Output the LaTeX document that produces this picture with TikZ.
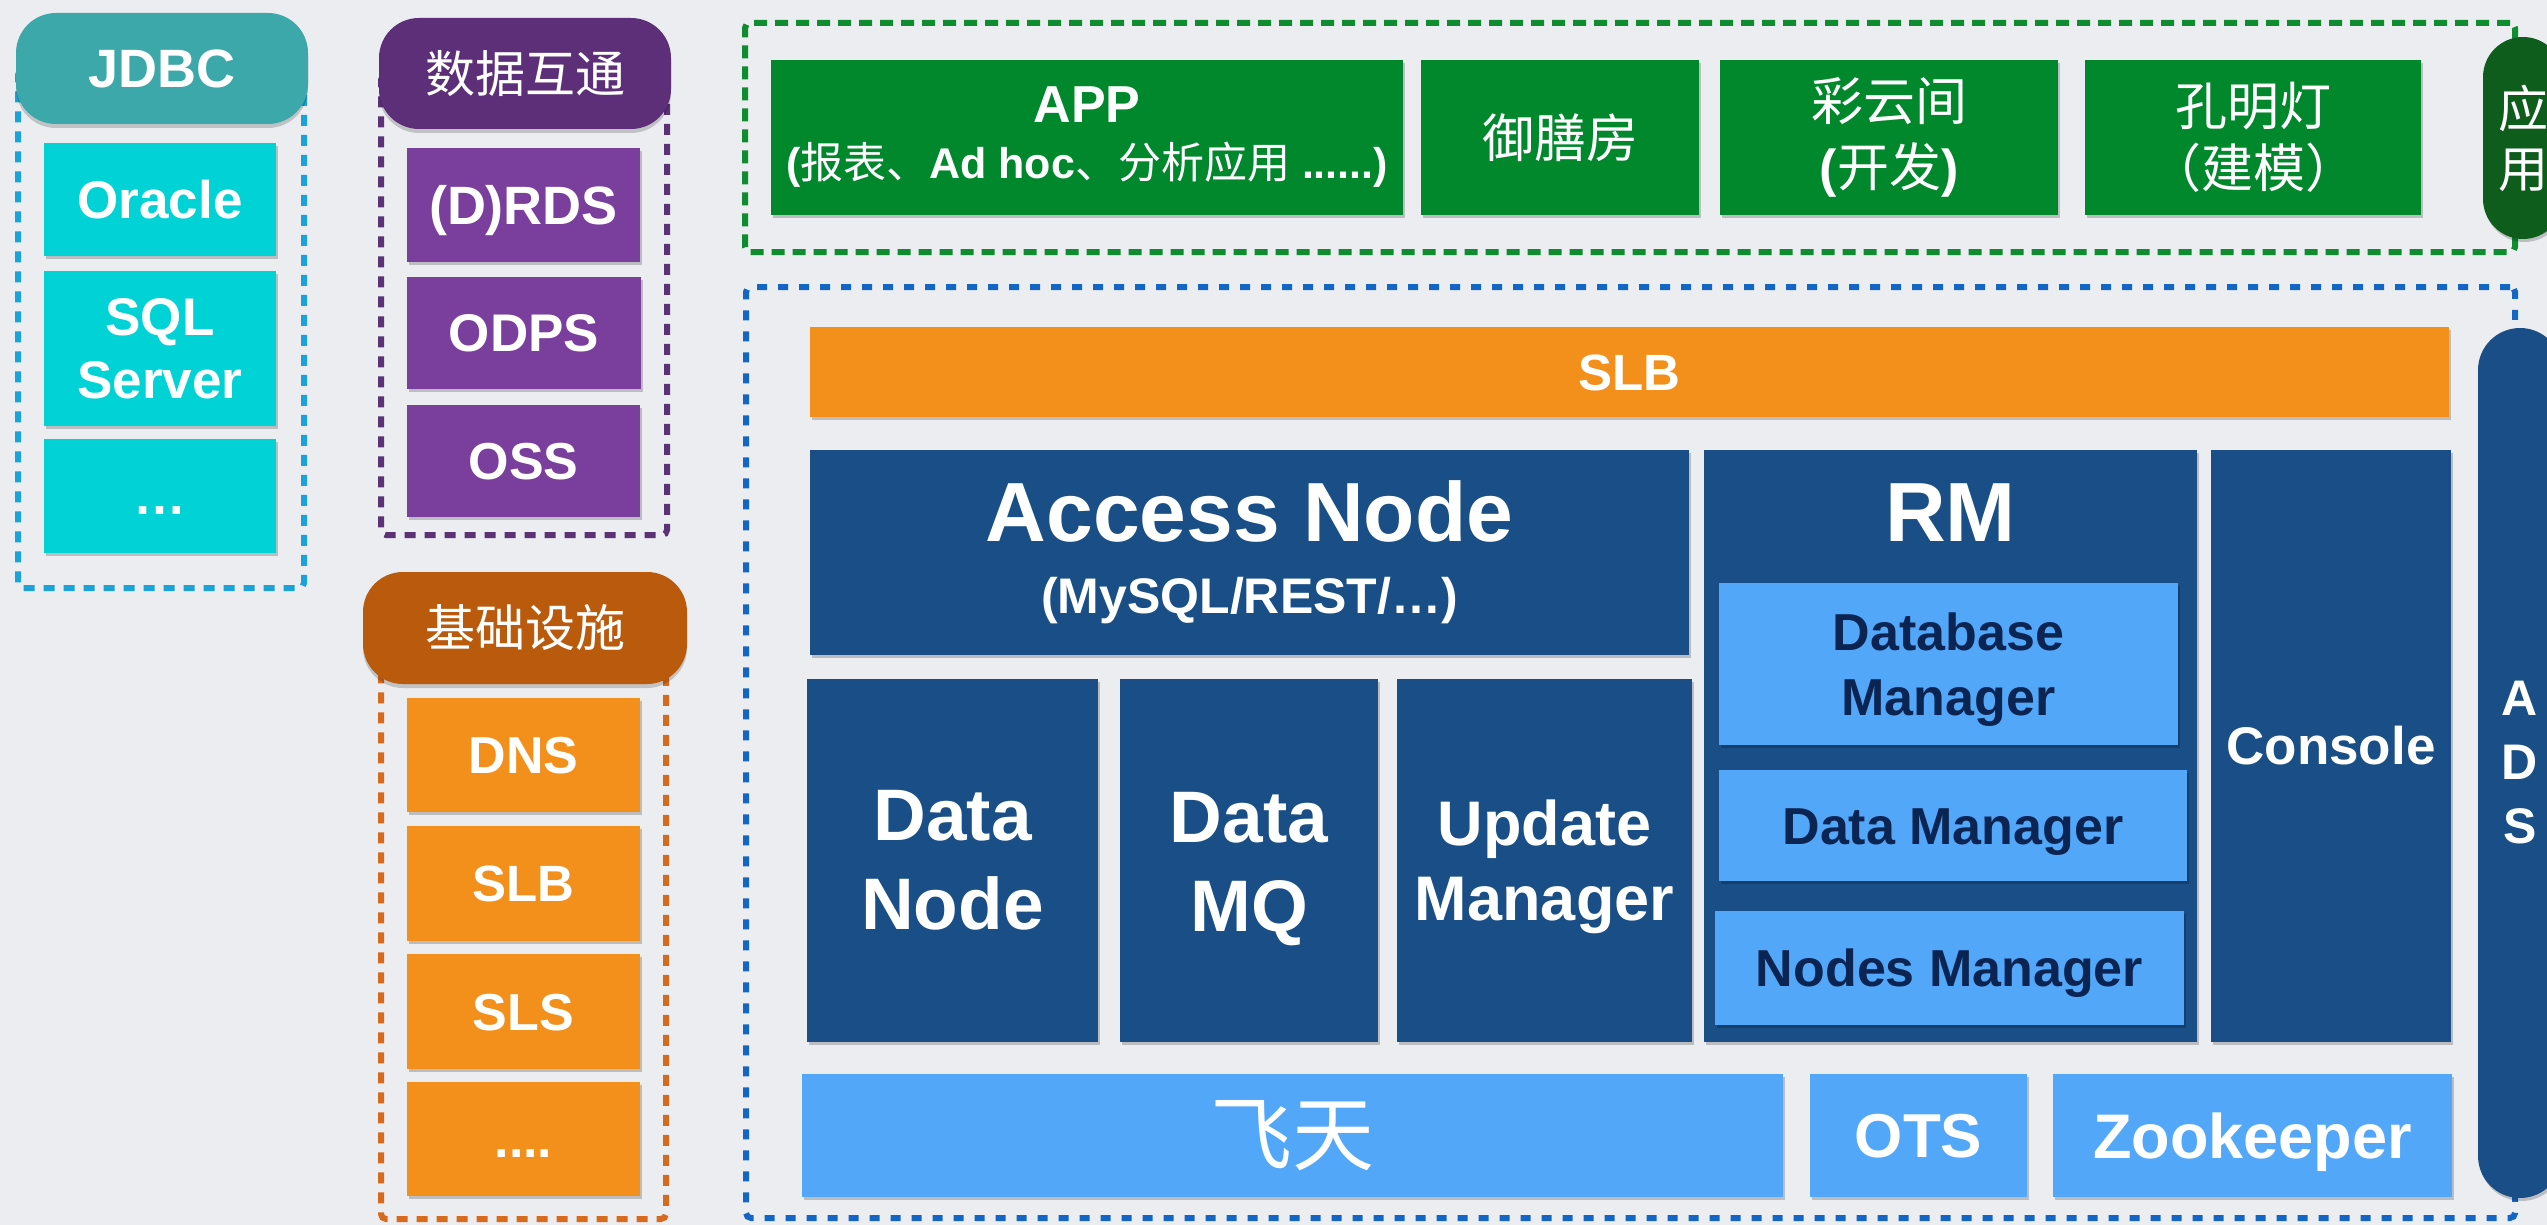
\documentclass[tikz,border=0pt]{standalone}
\usepackage{fontspec}
\setmainfont{Liberation Sans}
\newfontfamily\cjk{Noto Sans CJK SC}
\usetikzlibrary{shadows}
\definecolor{cBg}{HTML}{EBEDF0}
\definecolor{cJhdr}{HTML}{3DA8AA}
\definecolor{cJbox}{HTML}{00D2D6}
\definecolor{cJdash}{HTML}{1AA3D9}
\definecolor{cPhdr}{HTML}{5D2F79}
\definecolor{cPbox}{HTML}{7A3E9C}
\definecolor{cPdash}{HTML}{5C3176}
\definecolor{cOhdr}{HTML}{BA5A0C}
\definecolor{cObox}{HTML}{F2901B}
\definecolor{cOdash}{HTML}{D86A1E}
\definecolor{cGbox}{HTML}{01882C}
\definecolor{cGdash}{HTML}{0E8C2F}
\definecolor{cGpill}{HTML}{0E5D1D}
\definecolor{cNavy}{HTML}{194F86}
\definecolor{cLight}{HTML}{52A7F9}
\definecolor{cDark}{HTML}{0B2452}
\definecolor{cBdash}{HTML}{1366C6}
\newcommand{\bx}[7]{\node[#6, minimum width={#4-#2}, minimum height={#5-#3}] (#1) at ({(#2+#4)/2},{(#3+#5)/2}) {#7};}
\tikzset{
  shd/.style={drop shadow={shadow xshift=1.5pt, shadow yshift=-3pt, opacity=.2, fill=black}},
  box/.style={inner sep=0pt, outer sep=0pt, align=center, text=white, shd},
  lbox/.style={box, fill=cLight, text=cDark},
  hdr/.style={inner sep=0pt, outer sep=0pt, align=center, text=white, rounded corners=40pt,
    drop shadow={shadow xshift=0pt, shadow yshift=-4pt, opacity=.18, fill=black}},
  lf/.style={font=\fontsize{#1pt}{#1pt}\selectfont\bfseries, text height={0.716*#1pt}, text depth=0pt},
  mlf/.style 2 args={font=\fontsize{#1pt}{#2pt}\selectfont\bfseries},
  grp/.style={draw, line width=6pt, rounded corners=5pt, dash pattern=on 11pt off 9pt, inner sep=0pt, outer sep=0pt}
}
\begin{document}
\begin{tikzpicture}[x=1pt,y=-1pt]
\path[use as bounding box] (0,0) rectangle (2547,1225);
\fill[cBg] (0,0) rectangle (2547,1225);
\clip (0,0) rectangle (2547,1225);
% groups
\bx{jdbcgrp}{18}{70}{304}{588}{grp, draw=cJdash}{}
\bx{datagrp}{381}{75}{667}{535}{grp, draw=cPdash}{}
\bx{infragrp}{381}{630}{666}{1219}{grp, draw=cOdash}{}
\bx{appgrp}{745}{23}{2515}{252}{grp, draw=cGdash, dash pattern=on 13pt off 8pt}{}
\bx{adsgrp}{746}{287}{2515}{1218}{grp, draw=cBdash, dash pattern=on 10pt off 11pt}{}
% headers
\bx{jdbc}{16}{13}{308}{124}{hdr, fill=cJhdr, lf=54}{JDBC}
\bx{datahub}{379}{18}{671}{129}{hdr, fill=cPhdr, mlf={50}{50}}{\cjk\mdseries 数据互通}
\bx{infra}{363}{572}{687}{684}{hdr, fill=cOhdr, mlf={50}{50}}{\cjk\mdseries 基础设施}
% JDBC items
\bx{oracle}{44}{143}{276}{256}{box, fill=cJbox, lf=53}{Oracle}
\bx{sqlserver}{44}{271}{276}{426}{box, fill=cJbox, mlf={53}{63}}{SQL\\Server}
\bx{jdbcmore}{44}{439}{276}{553}{box, fill=cJbox, lf=53}{…}
% data items
\bx{drds}{407}{148}{640}{262}{box, fill=cPbox, lf=54}{(D)RDS}
\bx{odps}{407}{277}{641}{389}{box, fill=cPbox, lf=53}{ODPS}
\bx{oss}{407}{405}{640}{517}{box, fill=cPbox, lf=52}{OSS}
% infra items
\bx{dns}{407}{698}{640}{812}{box, fill=cObox, lf=52}{DNS}
\bx{slbinfra}{407}{826}{640}{941}{box, fill=cObox, lf=51}{SLB}
\bx{sls}{407}{954}{640}{1069}{box, fill=cObox, lf=52}{SLS}
\bx{inframore}{407}{1082}{640}{1196}{box, fill=cObox, lf=52}{....}
% applications
\bx{app}{771}{60}{1403}{215}{box, fill=cGbox, mlf={52}{56}}{APP\\{\fontsize{43pt}{43pt}\selectfont({\cjk\mdseries 报表、}Ad hoc{\cjk\mdseries 、分析应用} ......)}}
\bx{yushan}{1421}{60}{1699}{215}{box, fill=cGbox, mlf={52}{52}}{\cjk\mdseries 御膳房}
\bx{caiyun}{1720}{60}{2058}{215}{box, fill=cGbox, mlf={52}{66}}{{\cjk\mdseries 彩云间}\\({\cjk\mdseries 开发})}
\bx{kongming}{2085}{60}{2421}{215}{box, fill=cGbox, mlf={52}{62}}{{\cjk\mdseries 孔明灯}\\{\cjk\mdseries （建模）}}
\bx{yingyong}{2483}{37}{2563}{239}{box, fill=cGpill, rounded corners=40pt, mlf={50}{60}}{{\cjk\mdseries 应}\\{\cjk\mdseries 用}}
% ADS
\bx{slb}{810}{327}{2449}{417}{box, fill=cObox, lf=51}{SLB}
\bx{access}{810}{450}{1689}{655}{box, fill=cNavy, mlf={50}{72}}{{\fontsize{84pt}{84pt}\selectfont Access Node}\\(MySQL/REST/…)}
\bx{datanode}{807}{679}{1098}{1042}{box, fill=cNavy, mlf={73}{89}}{Data\\Node}
\bx{datamq}{1120}{679}{1378}{1042}{box, fill=cNavy, mlf={73}{89}}{\rule{0pt}{68pt}Data\\MQ}
\bx{updmgr}{1397}{679}{1692}{1042}{box, fill=cNavy, mlf={63}{75}}{\rule{0pt}{59pt}Update\\Manager}
\bx{rm}{1704}{450}{2197}{1042}{box, fill=cNavy}{}
\node[font=\fontsize{84pt}{84pt}\selectfont\bfseries, text=white, anchor=base, inner sep=0pt] (rmtitle) at (1950.5,541) {RM};
\bx{dbmgr}{1719}{583}{2178}{745}{lbox, mlf={52}{65}}{\rule{0pt}{49pt}Database\\Manager}
\bx{datamgr}{1719}{770}{2187}{881}{lbox, lf=52}{Data Manager}
\bx{nodesmgr}{1715}{911}{2184}{1025}{lbox, lf=52}{Nodes Manager}
\bx{console}{2211}{450}{2451}{1042}{box, fill=cNavy, lf=53}{Console}
\bx{feitian}{802}{1074}{1783}{1197}{box, fill=cLight, mlf={82}{82}}{\cjk\mdseries 飞天}
\bx{ots}{1810}{1074}{2027}{1197}{box, fill=cLight, lf=62}{OTS}
\bx{zk}{2053}{1074}{2452}{1197}{box, fill=cLight, lf=63}{Zookeeper}
\bx{ads}{2478}{328}{2562}{1198}{box, fill=cNavy, rounded corners=42pt, mlf={50}{64}}{A\\D\\S}
\end{tikzpicture}
\end{document}
